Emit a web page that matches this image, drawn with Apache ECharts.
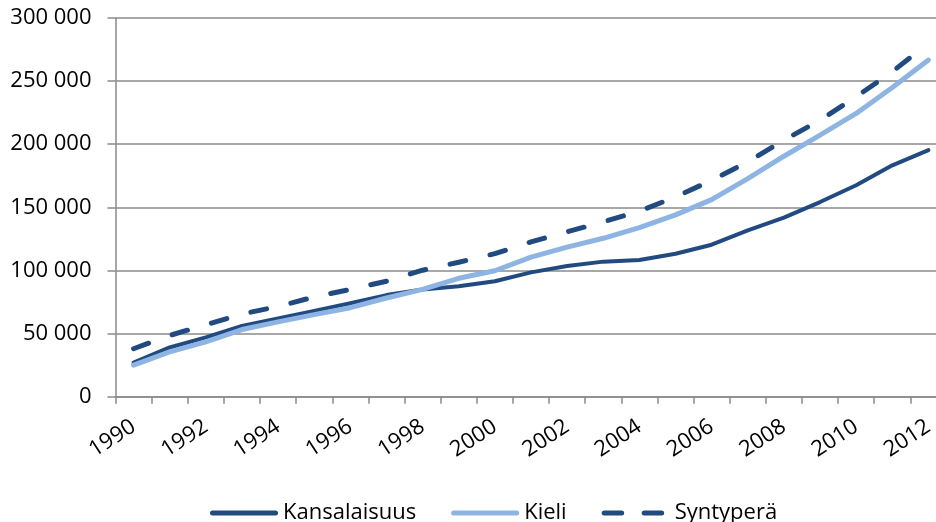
<!DOCTYPE html>
<html>
<head>
<meta charset="utf-8">
<script src="https://cdn.jsdelivr.net/npm/echarts@6/dist/echarts.min.js"></script>
<style>
html,body{margin:0;padding:0;background:#fff;}
#main{width:936px;height:522px;}
</style>
</head>
<body>
<div id="main"></div>
<script>
// vuodet
var years=['1990','1991','1992','1993','1994','1995','1996','1997','1998','1999','2000','2001',
           '2002','2003','2004','2005','2006','2007','2008','2009','2010','2011','2012'];
// sarjat luettu kuvasta
var kansalaisuus=[27000,39000,47000,56000,62000,68000,74000,80500,85000,87500,91500,98500,
                  103500,107000,108300,113200,120400,131800,141800,154200,167500,183300,195300];
var kieli=[25000,35500,43500,53200,59300,65000,70500,78200,85000,93800,99800,110600,
           118500,125500,134000,144000,156100,172800,190500,207200,224400,245000,266700];
var syntypera=[38000,48500,57000,65500,71500,79000,85000,91500,100200,106500,113300,122600,
               130600,138500,147000,158200,171400,186000,203200,219100,237600,257500,279900];
var seriesNames=['Kansalaisuus','Kieli','Syntyperä'];
var yTicks=[0,50000,100000,150000,200000,250000,300000];

var dark='#214b80';
var light='#8db4e2';
var font='"Open Sans", sans-serif';

// selitteen kuviot: ehjä viiva ja katkoviiva (pyöreät päät)
var solidIcon='path://M2.5,0 L65.5,0 A2.5,2.5 0 0 1 65.5,5 L2.5,5 A2.5,2.5 0 0 1 2.5,0 Z';
var dashIcon='path://M2.5,0 L20,0 A2.5,2.5 0 0 1 20,5 L2.5,5 A2.5,2.5 0 0 1 2.5,0 Z '+
             'M42.5,0 L60,0 A2.5,2.5 0 0 1 60,5 L42.5,5 A2.5,2.5 0 0 1 42.5,0 Z M68,2.5 L68,2.5';

function fmt(v){
    return v.toString().replace(/\B(?=(\d{3})+(?!\d))/g,' ');
}

var app=echarts.init(document.getElementById('main'));
var option={
    animation:false,
    backgroundColor:'#fff',
    grid:{
        left:115.5,
        width:831,
        top:18,
        bottom:125.3,
        outerBoundsMode:'none'
    },
    legend:{
        left:205,
        top:495,
        itemWidth:68,
        itemHeight:5,
        itemGap:35,
        textStyle:{fontFamily:font,fontSize:22,color:'#000',lineHeight:26},
        data:[
            {name:seriesNames[0],icon:solidIcon,itemStyle:{color:dark}},
            {name:seriesNames[1],icon:solidIcon,itemStyle:{color:light}},
            {name:seriesNames[2],icon:dashIcon,itemStyle:{color:dark}}
        ]
    },
    xAxis:{
        type:'category',
        data:years,
        boundaryGap:true,
        axisLine:{lineStyle:{color:'#8a8a8a',width:1.5}},
        axisTick:{show:true,interval:0,length:7,lineStyle:{color:'#8a8a8a',width:1.5}},
        axisLabel:{
            interval:1,
            rotate:33,
            margin:28,
            fontFamily:font,
            fontSize:22,
            color:'#000'
        },
        splitLine:{show:false}
    },
    yAxis:{
        type:'value',
        min:yTicks[0],
        max:yTicks[yTicks.length-1],
        interval:50000,
        axisLine:{show:true,lineStyle:{color:'#8a8a8a',width:1.5}},
        axisTick:{show:true,length:8,lineStyle:{color:'#8a8a8a',width:1.5}},
        axisLabel:{
            margin:24,
            fontFamily:font,
            fontSize:22,
            color:'#000',
            formatter:fmt
        },
        splitLine:{show:true,lineStyle:{color:'#8a8a8a',width:1.5}}
    },
    series:[
        {
            name:seriesNames[0],
            type:'line',
            data:kansalaisuus,
            symbol:'none',
            color:dark,
            lineStyle:{color:dark,width:4,cap:'round',join:'round'}
        },
        {
            name:seriesNames[1],
            type:'line',
            data:kieli,
            symbol:'none',
            color:light,
            lineStyle:{color:light,width:5,cap:'round',join:'round'}
        },
        {
            name:seriesNames[2],
            type:'line',
            data:syntypera,
            symbol:'none',
            color:dark,
            lineStyle:{color:dark,width:5,type:[16,25],cap:'round',join:'round'}
        }
    ]
};
app.setOption(option);
</script>
</body>
</html>
